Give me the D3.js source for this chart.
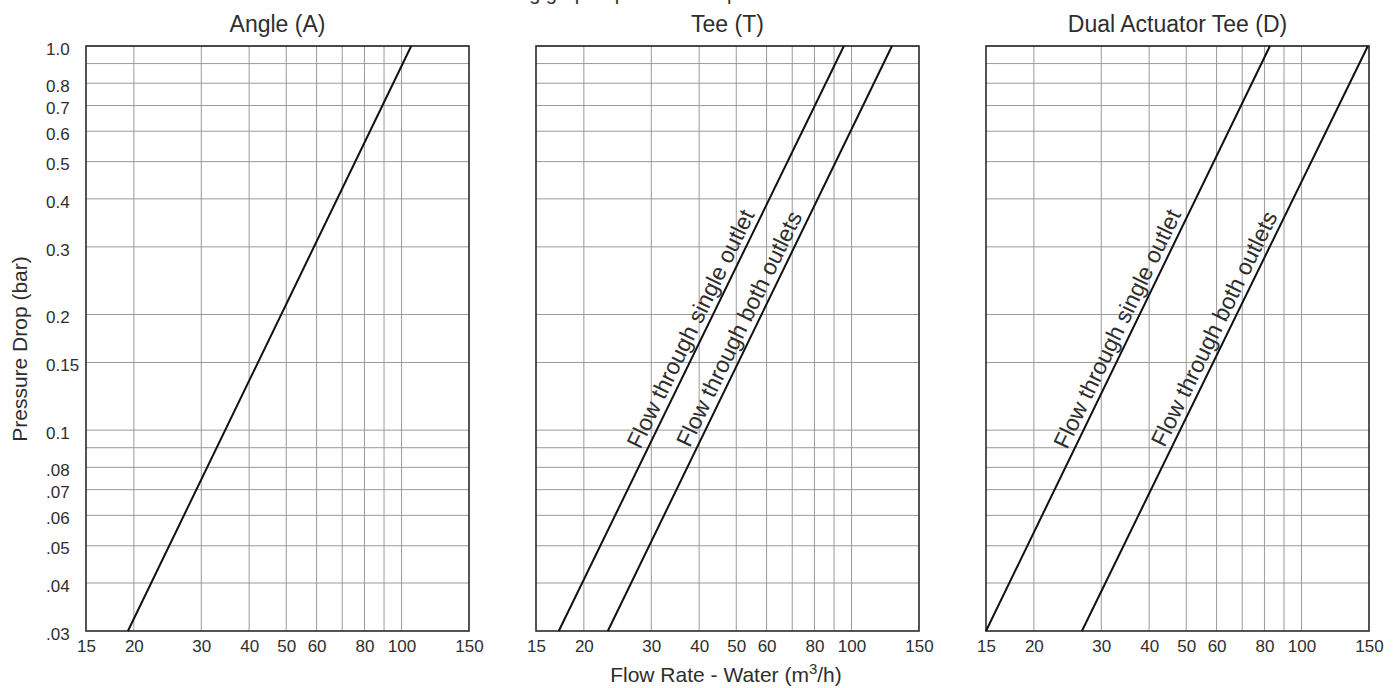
<!DOCTYPE html>
<meta charset="utf-8">
<style>
body { margin: 0; background: #fff; }
text { font-family: "Liberation Sans", Arial, sans-serif; fill: #2e2e2e; }
.grid line { stroke: #9a9a9a; stroke-width: 1; }
</style>
<svg width="1399" height="688"></svg>
<script src="https://cdn.jsdelivr.net/npm/d3@7"></script>
<script>

// chart data
var panelTitles = ["Angle (A)", "Tee (T)", "Dual Actuator Tee (D)"];
var xTicks = [15, 20, 30, 40, 50, 60, 80, 100, 150];
var xGrid = [20, 30, 40, 50, 60, 70, 80, 90, 100];
var yTicks = [1.0, 0.8, 0.7, 0.6, 0.5, 0.4, 0.3, 0.2, 0.15, 0.1, 0.08, 0.07, 0.06, 0.05, 0.04, 0.03];
var yTickLabels = ["1.0", "0.8", "0.7", "0.6", "0.5", "0.4", "0.3", "0.2", "0.15", "0.1", ".08", ".07", ".06", ".05", ".04", ".03"];
var yGrid = [1.0, 0.9, 0.8, 0.7, 0.6, 0.5, 0.4, 0.3, 0.2, 0.15, 0.1, 0.09, 0.08, 0.07, 0.06, 0.05, 0.04];

// each series: flow (m3/h) at 0.03 bar and at 1.0 bar
var angleLine = [[19.3, 0.03], [106, 1.0]];
var teeSingle = [[17.2, 0.03], [95.5, 1.0]];
var teeBoth = [[23.1, 0.03], [127.5, 1.0]];
var dualSingle = [[15, 0.03], [82.7, 1.0]];
var dualBoth = [[26.7, 0.03], [149, 1.0]];

var panelSeries = [
  [{values: angleLine}],
  [{values: teeSingle, label: "Flow through single outlet"}, {values: teeBoth, label: "Flow through both outlets"}],
  [{values: dualSingle, label: "Flow through single outlet"}, {values: dualBoth, label: "Flow through both outlets"}]
];
var labelAt = 0.177; // pressure where the line labels are centred

var svg = d3.select("svg"),
    margin = {top: 46, left: 86},
    pw = 383, ph = 585, gap = 450;

var x = d3.scaleLog().domain([15, 150]).range([0, pw]);
var y = d3.scaleLog().domain([0.03, 1]).range([ph, 0]);

var line = d3.line()
    .x(function(d) { return x(d[0]); })
    .y(function(d) { return y(d[1]); });

// title running off the top of the picture
svg.append("text")
    .attr("x", 612)
    .attr("y", 0)
    .attr("text-anchor", "middle")
    .style("font-size", "20px")
    .text("Sizing graph - pressure drop");

panelTitles.forEach(function(title, i) {
  var g = svg.append("g")
      .attr("transform", "translate(" + (margin.left + i * gap) + "," + margin.top + ")");

  g.append("text")
      .attr("x", pw / 2)
      .attr("y", -14)
      .attr("text-anchor", "middle")
      .style("font-size", "23px")
      .text(title);

  var grid = g.append("g").attr("class", "grid");
  grid.selectAll(".vx").data(xGrid).enter().append("line")
      .attr("x1", x).attr("x2", x)
      .attr("y1", 0).attr("y2", ph);
  grid.selectAll(".hy").data(yGrid).enter().append("line")
      .attr("x1", 0).attr("x2", pw)
      .attr("y1", y).attr("y2", y);

  g.append("rect")
      .attr("width", pw)
      .attr("height", ph)
      .attr("fill", "none")
      .attr("stroke", "#2a2a2a")
      .attr("stroke-width", 1.6);

  var xAxis = d3.axisBottom(x)
      .tickValues(xTicks)
      .tickFormat(d3.format("d"))
      .tickSize(0)
      .tickPadding(9);
  var xg = g.append("g")
      .attr("transform", "translate(0," + ph + ")")
      .call(xAxis);
  xg.select(".domain").remove();
  xg.selectAll("text").style("font-size", "17px").attr("fill", "#333");

  if (i === 0) {
    var yAxis = d3.axisLeft(y)
        .tickValues(yTicks)
        .tickFormat(function(d, k) { return yTickLabels[k]; })
        .tickSize(0);
    var yg = g.append("g").call(yAxis);
    yg.select(".domain").remove();
    yg.selectAll("text")
        .attr("text-anchor", "start")
        .attr("x", -40)
        .attr("dy", "0.48em")
        .style("font-size", "17px")
        .attr("fill", "#333");
  }

  panelSeries[i].forEach(function(s) {
    g.append("path")
        .datum(s.values)
        .attr("fill", "none")
        .attr("stroke", "#111")
        .attr("stroke-width", 2)
        .attr("d", line);

    if (s.label) {
      var a = s.values[0], b = s.values[1];
      var t = Math.log(labelAt / a[1]) / Math.log(b[1] / a[1]);
      var q = Math.exp(Math.log(a[0]) + t * (Math.log(b[0]) - Math.log(a[0])));
      var ang = Math.atan2(y(b[1]) - y(a[1]), x(b[0]) - x(a[0])) * 180 / Math.PI;
      g.append("text")
          .attr("transform", "translate(" + x(q) + "," + y(labelAt) + ") rotate(" + ang + ")")
          .attr("y", -6)
          .attr("text-anchor", "middle")
          .style("font-size", "23px")
          .text(s.label);
    }
  });
});

// axis titles
svg.append("text")
    .attr("transform", "translate(27,349) rotate(-90)")
    .attr("text-anchor", "middle")
    .style("font-size", "21px")
    .text("Pressure Drop (bar)");

var xt = svg.append("text")
    .attr("x", 726)
    .attr("y", 682)
    .attr("text-anchor", "middle")
    .style("font-size", "21px");
xt.append("tspan").text("Flow Rate - Water (m");
xt.append("tspan").attr("dy", -8).style("font-size", "15px").text("3");
xt.append("tspan").attr("dy", 8).text("/h)");

</script>
